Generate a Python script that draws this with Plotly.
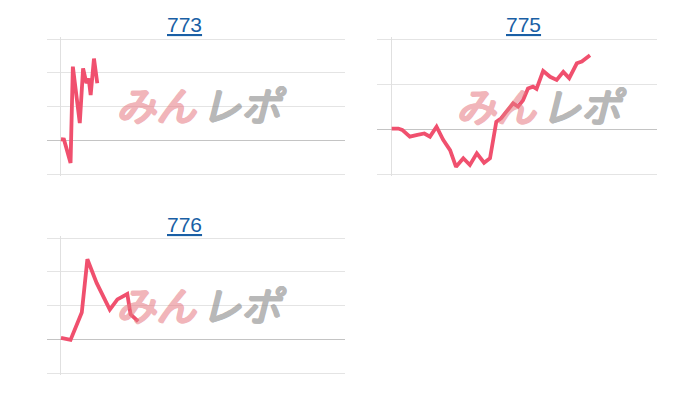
"""Small multiples: price trend per code, with watermark."""

import plotly.graph_objects as go

# --- data ------------------------------------------------------------------
codes = ["773", "775", "776"]

x_773 = [0, 0.9, 2.9, 3.6, 5.7, 6.7, 7.7, 8.4, 9.0, 10.0, 11.0]
y_773 = [0.3, 0.2, -6.7, 21.8, 5.1, 21.3, 16.9, 18.3, 13.4, 24.2, 16.9]

x_775 = [0, 2.0, 3.2, 5.5, 7.8, 9.9, 11.6, 13.6, 15.6, 17.7, 19.5, 21.7, 23.7,
         25.8, 28.0, 29.8, 31.7, 33.2, 34.7, 36.8, 38.3, 39.8, 41.3, 42.8,
         43.9, 45.9, 48.0, 50.0, 52.0, 53.8, 56.1, 57.6, 60.1]
y_775 = [0.1, 0.1, -0.2, -1.7, -1.3, -1.0, -1.7, 0.5, -2.4, -4.7, -8.4, -6.5,
         -8.0, -5.4, -7.5, -6.5, 1.6, 2.4, 3.8, 5.7, 5.0, 6.4, 9.0, 9.4, 8.9,
         12.9, 11.6, 10.9, 12.7, 11.3, 14.6, 15.0, 16.4]

x_776 = [0, 2.9, 6.3, 8.0, 10.8, 14.8, 17.1, 20.1, 21.1, 23.4]
y_776 = [0.4, -0.2, 7.9, 23.7, 16.7, 8.8, 11.8, 13.4, 7.4, 5.3]

LINE = "#f0506e"
GRID = "#e4e4e4"
ZERO = "#c4c4c4"
LINK = "#1a5fa5"
MARK_PINK = "#e67a82"
MARK_GRAY = "#8a8a8a"

W, H = 700, 400
OFF = 8  # page body margin around the plot div
PAD = 2  # keep edge gridlines away from plotly's end clipping


def px_x(v):
    return (v - OFF) / W


def px_y(v):
    return 1 - (v - OFF) / H


def fat(c):
    # thicken the watermark glyphs a little
    return ", ".join(f"{dx}px {dy}px 0 {c}" for dx, dy in
                     [(1, 0), (-1, 0), (0, 1), (0, -1), (1, 1), (-1, -1)])


# panel boxes in page pixels: (left, right, top, bottom)
boxes = [(47, 345, 39, 174), (377, 657, 39, 174), (47, 345, 238, 373)]
series = [(x_773, y_773), (x_775, y_775), (x_776, y_776)]
xranges = [[-4.24, 86.1], [-4.45, 80.4], [-4.24, 86.1]]
yranges = [[-10, 30], [-10, 20], [-10, 30]]
title_pos = [(184, 24), (523, 24), (184, 224)]
mark_pos = [(199, 104), (539, 105), (199, 304)]

fig = go.Figure()
annotations = []

for i, (code, (xs, ys)) in enumerate(zip(codes, series)):
    n = "" if i == 0 else str(i + 1)
    l, r, t, b = boxes[i]
    lo, hi = yranges[i]
    u = (hi - lo) / (b - t)
    fig.add_trace(go.Scatter(
        x=xs, y=ys, mode="lines",
        line=dict(color=LINE, width=3.8),
        xaxis="x" + n, yaxis="y" + n,
        hoverinfo="skip", showlegend=False,
    ))
    fig.layout["xaxis" + n] = dict(
        domain=[px_x(l), px_x(r)], range=xranges[i], anchor="y" + n,
        showgrid=False, showticklabels=False, ticks="",
        zeroline=True, zerolinecolor="#e0e0e0", zerolinewidth=1,
        showline=False, fixedrange=True,
    )
    fig.layout["yaxis" + n] = dict(
        domain=[px_y(b + PAD), px_y(t - PAD)],
        range=[lo - PAD * u, hi + PAD * u], anchor="x" + n,
        tick0=0, dtick=10, showgrid=True, gridcolor=GRID, gridwidth=1,
        showticklabels=False, ticks="",
        zeroline=True, zerolinecolor=ZERO, zerolinewidth=1,
        showline=False, fixedrange=True,
    )
    tx, ty = title_pos[i]
    annotations.append(dict(
        text="<u>" + code + "</u>", x=px_x(tx), y=px_y(ty),
        xref="paper", yref="paper", showarrow=False,
        xanchor="center", yanchor="middle",
        font=dict(family="Arial, Liberation Sans", size=21, color=LINK),
    ))
    mx, my = mark_pos[i]
    for txt, col, anchor, op in [("みん", MARK_PINK, "right", 0.55),
                                 ("レポ", MARK_GRAY, "left", 0.6)]:
        annotations.append(dict(
            text=txt, x=px_x(mx), y=px_y(my), xref="paper", yref="paper",
            showarrow=False, xanchor=anchor, yanchor="middle",
            opacity=op,
            font=dict(family="Noto Sans CJK JP", size=40, color=col,
                      style="italic", shadow=fat(col)),
        ))

fig.update_layout(
    width=W, height=H,
    margin=dict(l=0, r=0, t=0, b=0),
    paper_bgcolor="white", plot_bgcolor="white",
    annotations=annotations,
)

fig.write_html("out.html", config={"displayModeBar": False})
